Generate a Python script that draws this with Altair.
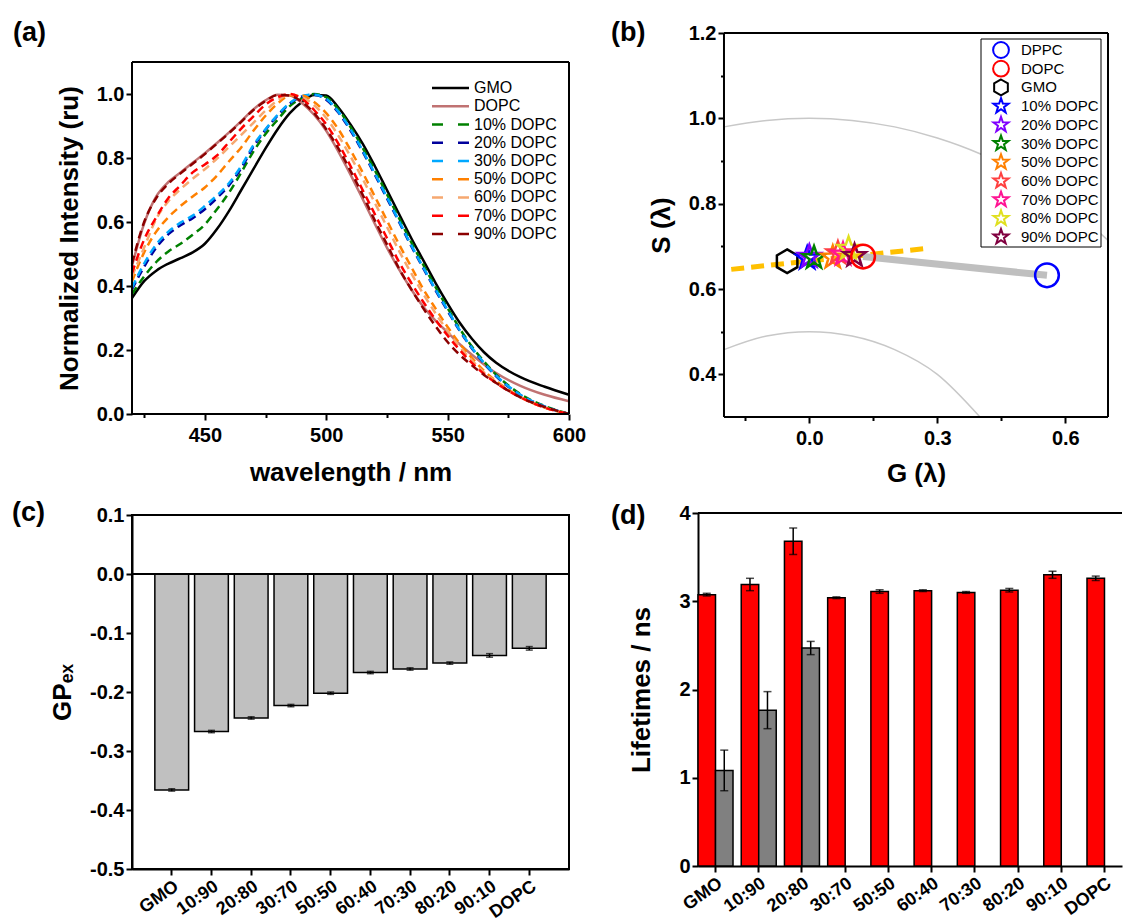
import altair as alt
import pandas as pd

FONT = "Liberation Sans, Arial, DejaVu Sans, sans-serif"

# ---------------- (a) emission spectra ----------------
wavelength = [420, 425, 430, 435, 440, 445, 450, 455, 460, 465, 470, 475, 480, 485, 490,
              495, 500, 505, 510, 515, 520, 525, 530, 535, 540, 545, 550, 555, 560, 565,
              570, 580, 590, 600]
int_gmo = [0.362, 0.415, 0.448, 0.470, 0.487, 0.505, 0.532, 0.578, 0.635, 0.700, 0.765, 0.830, 0.890, 0.940, 0.975,
           0.997, 0.995, 0.958, 0.905, 0.845, 0.775, 0.700, 0.625, 0.550, 0.480, 0.410, 0.345, 0.285, 0.235, 0.193,
           0.160, 0.115, 0.085, 0.060]
int_dopc = [0.463, 0.595, 0.680, 0.725, 0.755, 0.785, 0.815, 0.847, 0.880, 0.915, 0.952, 0.980, 0.998, 0.995, 0.972,
            0.935, 0.885, 0.820, 0.748, 0.672, 0.595, 0.520, 0.452, 0.390, 0.335, 0.292, 0.255, 0.218, 0.185, 0.155,
            0.128, 0.088, 0.060, 0.040]
int_10 = [0.375, 0.430, 0.475, 0.508, 0.532, 0.560, 0.592, 0.640, 0.692, 0.755, 0.820, 0.875, 0.920, 0.962, 0.987,
          1.000, 0.990, 0.952, 0.897, 0.832, 0.762, 0.687, 0.612, 0.537, 0.466, 0.397, 0.331, 0.267, 0.211, 0.164,
          0.123, 0.062, 0.025, 0.000]
int_20 = [0.390, 0.460, 0.520, 0.562, 0.590, 0.612, 0.640, 0.675, 0.715, 0.768, 0.835, 0.888, 0.933, 0.970, 0.992,
          0.998, 0.982, 0.942, 0.886, 0.820, 0.748, 0.674, 0.600, 0.525, 0.455, 0.387, 0.322, 0.260, 0.205, 0.158,
          0.118, 0.059, 0.023, 0.000]
int_30 = [0.395, 0.470, 0.530, 0.570, 0.598, 0.620, 0.650, 0.683, 0.722, 0.775, 0.840, 0.890, 0.935, 0.972, 0.993,
          0.998, 0.985, 0.945, 0.890, 0.823, 0.752, 0.678, 0.603, 0.528, 0.458, 0.390, 0.325, 0.262, 0.207, 0.160,
          0.120, 0.060, 0.024, 0.000]
int_50 = [0.415, 0.505, 0.570, 0.615, 0.650, 0.680, 0.708, 0.745, 0.790, 0.833, 0.885, 0.932, 0.970, 0.995, 0.995,
          0.975, 0.940, 0.890, 0.825, 0.755, 0.680, 0.605, 0.530, 0.460, 0.390, 0.330, 0.272, 0.220, 0.175, 0.135,
          0.103, 0.053, 0.020, 0.000]
int_60 = [0.430, 0.520, 0.610, 0.665, 0.703, 0.735, 0.765, 0.798, 0.835, 0.872, 0.910, 0.948, 0.980, 0.998, 0.990,
          0.965, 0.925, 0.870, 0.805, 0.735, 0.660, 0.585, 0.510, 0.440, 0.375, 0.315, 0.260, 0.210, 0.168, 0.130,
          0.100, 0.052, 0.020, 0.000]
int_70 = [0.440, 0.545, 0.615, 0.675, 0.715, 0.755, 0.780, 0.808, 0.850, 0.892, 0.930, 0.967, 0.990, 1.000, 0.985,
          0.950, 0.905, 0.845, 0.775, 0.700, 0.625, 0.550, 0.475, 0.410, 0.350, 0.295, 0.245, 0.200, 0.160, 0.125,
          0.097, 0.052, 0.020, 0.000]
int_90 = [0.470, 0.600, 0.675, 0.720, 0.752, 0.782, 0.812, 0.845, 0.878, 0.913, 0.950, 0.978, 0.997, 0.995, 0.975,
          0.940, 0.890, 0.830, 0.760, 0.685, 0.605, 0.530, 0.455, 0.390, 0.330, 0.275, 0.225, 0.185, 0.152, 0.122,
          0.097, 0.052, 0.022, 0.000]
series_a = ["GMO", "DOPC", "10% DOPC", "20% DOPC", "30% DOPC", "50% DOPC", "60% DOPC", "70% DOPC", "90% DOPC"]
colors_a = ["#000000", "#c07272", "#008000", "#00009c", "#00a8ff", "#ff8000", "#f6a870", "#ff0000", "#8b0000"]
dashed_a = [False, False, True, True, True, True, True, True, True]
curves_a = [int_gmo, int_dopc, int_10, int_20, int_30, int_50, int_60, int_70, int_90]

# ---------------- (b) phasor plot ----------------
names_b = ["DPPC", "DOPC", "GMO", "10% DOPC", "20% DOPC", "30% DOPC", "50% DOPC",
           "60% DOPC", "70% DOPC", "80% DOPC", "90% DOPC"]
g_b = [0.557, 0.126, -0.052, -0.005, 0.000, 0.011, 0.055, 0.067, 0.079, 0.092, 0.106]
s_b = [0.632, 0.676, 0.665, 0.672, 0.676, 0.673, 0.674, 0.684, 0.681, 0.695, 0.678]
colors_b = ["#0000ff", "#ff0000", "#000000", "#0000ff", "#8000ff", "#008000", "#ff8000",
            "#ff4040", "#ff1493", "#e0e020", "#800040"]
STAR = ("M0,-1L0.235,-0.324L0.951,-0.309L0.380,0.124L0.588,0.809L0,0.4"
        "L-0.588,0.809L-0.380,0.124L-0.951,-0.309L-0.235,-0.324Z")
HEX = "M0,-1L0.866,-0.5L0.866,0.5L0,1L-0.866,0.5L-0.866,-0.5Z"
shapes_b = ["circle", "circle", HEX] + [STAR] * 8
draw_order_b = ["DPPC", "GMO", "10% DOPC", "20% DOPC", "30% DOPC", "50% DOPC", "60% DOPC",
                "70% DOPC", "80% DOPC", "90% DOPC", "DOPC"]
arc_up_g = [-0.2, -0.1, 0.0, 0.1, 0.2, 0.3, 0.4, 0.5, 0.6, 0.7]
arc_up_s = [0.980, 0.995, 1.000, 0.995, 0.980, 0.954, 0.917, 0.866, 0.800, 0.714]
arc_lo_g = [-0.2, -0.1, 0.0, 0.1, 0.2, 0.3, 0.4]
arc_lo_s = [0.458, 0.490, 0.500, 0.490, 0.458, 0.400, 0.300]
trend_g = [-0.183, 0.274]
trend_s = [0.646, 0.695]
link_g = [0.126, 0.557]
link_s = [0.676, 0.632]

# ---------------- (c) GPex ----------------
cats = ["GMO", "10:90", "20:80", "30:70", "50:50", "60:40", "70:30", "80:20", "90:10", "DOPC"]
gp_ex = [-0.366, -0.267, -0.244, -0.223, -0.202, -0.167, -0.161, -0.151, -0.138, -0.126]
gp_err = [0.002, 0.002, 0.002, 0.002, 0.002, 0.002, 0.002, 0.002, 0.003, 0.003]

# ---------------- (d) lifetimes ----------------
tau_long = [3.075, 3.19, 3.68, 3.04, 3.11, 3.12, 3.10, 3.125, 3.30, 3.26]
tau_long_err = [0.015, 0.07, 0.15, 0.01, 0.02, 0.01, 0.01, 0.02, 0.04, 0.025]
tau_short = [1.083, 1.766, 2.47]
tau_short_err = [0.23, 0.21, 0.075]


def ax(**kw):
    base = dict(labelFont=FONT, labelFontSize=20, labelFontWeight="bold", labelColor="black",
                titleFont=FONT, titleFontSize=26, titleFontWeight="bold", titleColor="black",
                tickColor="black", tickWidth=2, domainColor="black", domainWidth=2,
                grid=False, labelOverlap=False, labelFlush=False, labelBound=False)
    base.update(kw)
    return alt.Axis(**base)


def panel_label(txt, dx, dy):
    return alt.Chart(pd.DataFrame({"t": [txt]})).mark_text(
        font=FONT, fontSize=27, fontWeight="bold", align="left", baseline="top", color="black"
    ).encode(x=alt.value(dx), y=alt.value(dy), text="t:N")


def frame_rules(x0, x1, y0, y1):
    """Plot frame drawn on the data scales (left, right, top, bottom edges)."""
    base = alt.Chart(pd.DataFrame({"k": [0]})).mark_rule(color="black", strokeWidth=2)
    return [
        base.encode(x=alt.datum(x0), y=alt.datum(y0), y2=alt.datum(y1)),
        base.encode(x=alt.datum(x1), y=alt.datum(y0), y2=alt.datum(y1)),
        base.encode(y=alt.datum(y1), x=alt.datum(x0), x2=alt.datum(x1)),
        base.encode(y=alt.datum(y0), x=alt.datum(x0), x2=alt.datum(x1)),
    ]


# ====== panel (a) ======  (plot area extended 29 px upward, frame drawn at 1.1)
df_a = pd.DataFrame([{"series": n, "wl": w, "I": v, "dashed": d}
                     for n, vals, d in zip(series_a, curves_a, dashed_a)
                     for w, v in zip(wavelength, vals)])
x_a = alt.X("wl:Q", scale=alt.Scale(domain=[420, 600], nice=False, zero=False),
            axis=ax(values=[425, 450, 475, 500, 525, 550, 575, 600], format="d",
                    labelExpr="datum.value % 50 === 0 ? datum.label : ''",
                    tickSize={"condition": {"test": "datum.value % 50 !== 0", "value": 3.5}, "value": 6},
                    labelPadding=5, title="wavelength / nm", titlePadding=14, domain=False))
y_a = alt.Y("I:Q", scale=alt.Scale(domain=[0, 1.190625], nice=False),
            axis=ax(values=[0, 0.1, 0.2, 0.3, 0.4, 0.5, 0.6, 0.7, 0.8, 0.9, 1.0], format=".1f",
                    labelExpr="round(datum.value*10) % 2 === 0 ? datum.label : ''",
                    tickSize={"condition": {"test": "round(datum.value*10) % 2 === 1", "value": 3.5}, "value": 6},
                    labelPadding=2, title="Normalized Intensity (ru)", titlePadding=14, domain=False,
                    titleY=205))
color_a = alt.Color("series:N", scale=alt.Scale(domain=series_a, range=colors_a), legend=None)

solid_a = alt.Chart(df_a).transform_filter("!datum.dashed").mark_line(
    strokeWidth=2.5, interpolate="monotone").encode(x=x_a, y=y_a, color=color_a)
dash_a = alt.Chart(df_a).transform_filter("datum.dashed").mark_line(
    strokeWidth=2.5, strokeDash=[8, 5], interpolate="monotone").encode(x=x_a, y=y_a, color=color_a)
main_a = alt.layer(solid_a, dash_a, *frame_rules(420, 600, 0, 1.1))

df_leg_a = pd.DataFrame({"series": series_a, "dashed": dashed_a})
y_leg = alt.Y("series:N", scale=alt.Scale(domain=series_a, range=[46, 210], padding=0), axis=None)
leg_solid = alt.Chart(df_leg_a).transform_filter("!datum.dashed").mark_rule(strokeWidth=2.5).encode(
    x=alt.value(300), x2=alt.value(337), y=y_leg, color=color_a)
leg_dash = alt.Chart(df_leg_a).transform_filter("datum.dashed").mark_rule(
    strokeWidth=2.5, strokeDash=[11, 15]).encode(x=alt.value(300), x2=alt.value(337), y=y_leg, color=color_a)
leg_text = alt.Chart(df_leg_a).mark_text(align="left", baseline="middle", fontSize=16, font=FONT,
                                         color="black").encode(x=alt.value(342), y=y_leg, text="series:N")
legend_a = alt.layer(leg_solid, leg_dash, leg_text)

panel_a = alt.layer(main_a, legend_a, panel_label("(a)", -119, -13)).resolve_scale(
    y="independent").properties(width=437, height=381, view=alt.ViewBackground(strokeWidth=0))

# ====== panel (b) ======  (plot area extended 26 px to the left, frame drawn at -0.2)
df_b = pd.DataFrame({"name": names_b, "G": g_b, "S": s_b}).set_index("name").loc[draw_order_b].reset_index()
x_b = alt.X("G:Q", scale=alt.Scale(domain=[-0.2609, 0.7], nice=False, zero=False),
            axis=ax(values=[-0.15, 0.0, 0.15, 0.3, 0.45, 0.6], format=".1f",
                    labelExpr="abs(round(datum.value*100)) % 30 === 0 ? datum.label : ''",
                    tickSize={"condition": {"test": "abs(round(datum.value*100)) % 30 !== 0", "value": 3.5},
                              "value": 6},
                    labelPadding=5, title="G (λ)", titlePadding=12, domain=False, titleX=218))
y_b = alt.Y("S:Q", scale=alt.Scale(domain=[0.3, 1.2], nice=False, zero=False),
            axis=ax(values=[0.4, 0.5, 0.6, 0.7, 0.8, 0.9, 1.0, 1.1, 1.2], format=".1f",
                    labelExpr="round(datum.value*10) % 2 === 0 ? datum.label : ''",
                    tickSize={"condition": {"test": "round(datum.value*10) % 2 === 1", "value": 3.5}, "value": 6},
                    labelPadding=2, title="S (λ)", titlePadding=14, domain=False, offset=-26))
color_b = alt.Color("name:N", scale=alt.Scale(domain=names_b, range=colors_b), legend=None)
shape_b = alt.Shape("name:N", scale=alt.Scale(domain=names_b, range=shapes_b), legend=None)
df_arc = pd.DataFrame({"G": arc_up_g + arc_lo_g, "S": arc_up_s + arc_lo_s,
                       "arc": ["r1"] * len(arc_up_g) + ["r05"] * len(arc_lo_g)})
arcs = alt.Chart(df_arc).mark_line(color="#c8c8c8", strokeWidth=1.5, interpolate="monotone").encode(
    x=x_b, y=y_b, detail="arc:N")
trend = alt.Chart(pd.DataFrame({"G": trend_g, "S": trend_s})).mark_line(
    color="#ffc000", strokeWidth=5, strokeDash=[13, 7]).encode(x=x_b, y=y_b)
link = alt.Chart(pd.DataFrame({"G": link_g, "S": link_s})).mark_line(
    color="#bfbfbf", strokeWidth=7).encode(x=x_b, y=y_b)
pts = alt.Chart(df_b).mark_point(filled=False, size=560, strokeWidth=2.5, opacity=1).encode(
    x=x_b, y=y_b, color=color_b, shape=shape_b)
main_b = alt.layer(arcs, trend, link, *frame_rules(-0.2, 0.7, 0.3, 1.2), pts)

df_leg_b = pd.DataFrame({"name": names_b})
y_leg_b = alt.Y("name:N", scale=alt.Scale(domain=names_b, range=[17, 204], padding=0), axis=None)
leg_box_b = alt.Chart(pd.DataFrame({"k": [0]})).mark_rect(fill="white", stroke="black", strokeWidth=1).encode(
    x=alt.value(283), x2=alt.value(403), y=alt.value(6), y2=alt.value(214))
leg_sym_b = alt.Chart(df_leg_b).mark_point(filled=False, size=250, strokeWidth=2, opacity=1).encode(
    x=alt.value(303), y=y_leg_b, color=color_b, shape=shape_b)
leg_txt_b = alt.Chart(df_leg_b).mark_text(align="left", baseline="middle", fontSize=15, font=FONT,
                                          color="black").encode(x=alt.value(323), y=y_leg_b, text="name:N")
legend_b = alt.layer(leg_box_b, leg_sym_b, leg_txt_b)

panel_b = alt.layer(main_b, legend_b, panel_label("(b)", -87, -13)).resolve_scale(
    y="independent").properties(width=410, height=384, view=alt.ViewBackground(strokeWidth=0))

# ====== panel (c) ======
df_c = pd.DataFrame({"cat": cats, "gp": gp_ex, "err": gp_err})
x_c = alt.X("cat:N", sort=cats, scale=alt.Scale(paddingInner=0.15, paddingOuter=0.575),
            axis=ax(labelAngle=-35, labelAlign="right", labelBaseline="top", labelFontSize=18,
                    tickSize=6, labelPadding=2, title=None))
y_c = alt.Y("gp:Q", scale=alt.Scale(domain=[-0.5, 0.1], nice=False, zero=False),
            axis=ax(values=[-0.5, -0.45, -0.4, -0.35, -0.3, -0.25, -0.2, -0.15, -0.1, -0.05, 0.0, 0.05, 0.1],
                    format=".1f",
                    labelExpr="abs(round(datum.value*100)) % 10 === 0 ? replace(datum.label, '\u2212', '-') : ''",
                    tickSize={"condition": {"test": "abs(round(datum.value*100)) % 10 === 5", "value": 3.5},
                              "value": 6},
                    labelPadding=2, title="GP\u2091\u2093", titlePadding=14))
bars_c = alt.Chart(df_c).mark_bar(color="#c0c0c0", stroke="black", strokeWidth=1.5).encode(
    x=x_c, y=y_c, y2=alt.datum(0))
zero_c = alt.Chart(df_c).mark_rule(color="black", strokeWidth=2).encode(y=alt.datum(0))
err_c = alt.Chart(df_c).transform_calculate(lo="datum.gp - datum.err", hi="datum.gp + datum.err")
err_rule_c = err_c.mark_rule(color="black", strokeWidth=1.5).encode(x=x_c, y="lo:Q", y2="hi:Q")
err_lo_c = err_c.mark_tick(color="black", size=7, thickness=1.5).encode(x=x_c, y="lo:Q")
err_hi_c = err_c.mark_tick(color="black", size=7, thickness=1.5).encode(x=x_c, y="hi:Q")
panel_c = alt.layer(bars_c, zero_c, err_rule_c, err_lo_c, err_hi_c, panel_label("(c)", -120, -15)).properties(
    width=437, height=354)

# ====== panel (d) ======
df_d = pd.concat([
    pd.DataFrame({"cat": cats, "type": "long", "tau": tau_long, "err": tau_long_err}),
    pd.DataFrame({"cat": cats[:3], "type": "short", "tau": tau_short, "err": tau_short_err}),
], ignore_index=True)
x_d = alt.X("cat:N", sort=cats, scale=alt.Scale(paddingInner=0.19, paddingOuter=0.0),
            axis=ax(labelAngle=-35, labelAlign="right", labelBaseline="top", labelFontSize=18,
                    tickSize=6, labelPadding=2, title=None))
xo_d = alt.XOffset("type:N", scale=alt.Scale(domain=["long", "short"], paddingInner=0, paddingOuter=0))
y_d = alt.Y("tau:Q", scale=alt.Scale(domain=[0, 4], nice=False),
            axis=ax(values=[0, 0.5, 1, 1.5, 2, 2.5, 3, 3.5, 4], format="d",
                    labelExpr="datum.value % 1 === 0 ? datum.label : ''",
                    tickSize={"condition": {"test": "datum.value % 1 !== 0", "value": 3.5}, "value": 6},
                    labelPadding=2, title="Lifetimes / ns", titlePadding=24))
color_d = alt.Color("type:N", scale=alt.Scale(domain=["long", "short"], range=["#ff0000", "#808080"]),
                    legend=None)
bars_d = alt.Chart(df_d).mark_bar(stroke="black", strokeWidth=1.5).encode(
    x=x_d, xOffset=xo_d, y=y_d, color=color_d)
err_d = alt.Chart(df_d).transform_calculate(lo="datum.tau - datum.err", hi="datum.tau + datum.err")
err_rule_d = err_d.mark_rule(color="black", strokeWidth=1.5).encode(x=x_d, xOffset=xo_d, y="lo:Q", y2="hi:Q")
err_lo_d = err_d.mark_tick(color="black", size=8, thickness=1.5).encode(x=x_d, xOffset=xo_d, y="lo:Q")
err_hi_d = err_d.mark_tick(color="black", size=8, thickness=1.5).encode(x=x_d, xOffset=xo_d, y="hi:Q")
top_d = alt.Chart(df_d).mark_rule(color="black", strokeWidth=2).encode(y=alt.datum(4))
panel_d = alt.layer(bars_d, err_rule_d, err_lo_d, err_hi_d, top_d, panel_label("(d)", -87, -10)).properties(
    width=424, height=353, view=alt.ViewBackground(strokeWidth=0))

col1 = alt.concat(panel_a, panel_c, columns=1, spacing=13, align="none").resolve_scale(
    color="independent", shape="independent")
col2 = alt.concat(panel_b, panel_d, columns=1, spacing=16, align="none").resolve_scale(
    color="independent", shape="independent")
chart = alt.concat(col1, col2, columns=2, spacing=25, align="none").resolve_scale(
    color="independent", shape="independent").properties(
    padding={"left": 11, "top": 19, "right": 0, "bottom": 0}
).configure(font=FONT).configure_view(stroke="black", strokeWidth=2)

chart.save("out.html", embed_options={"renderer": "svg", "actions": False})
